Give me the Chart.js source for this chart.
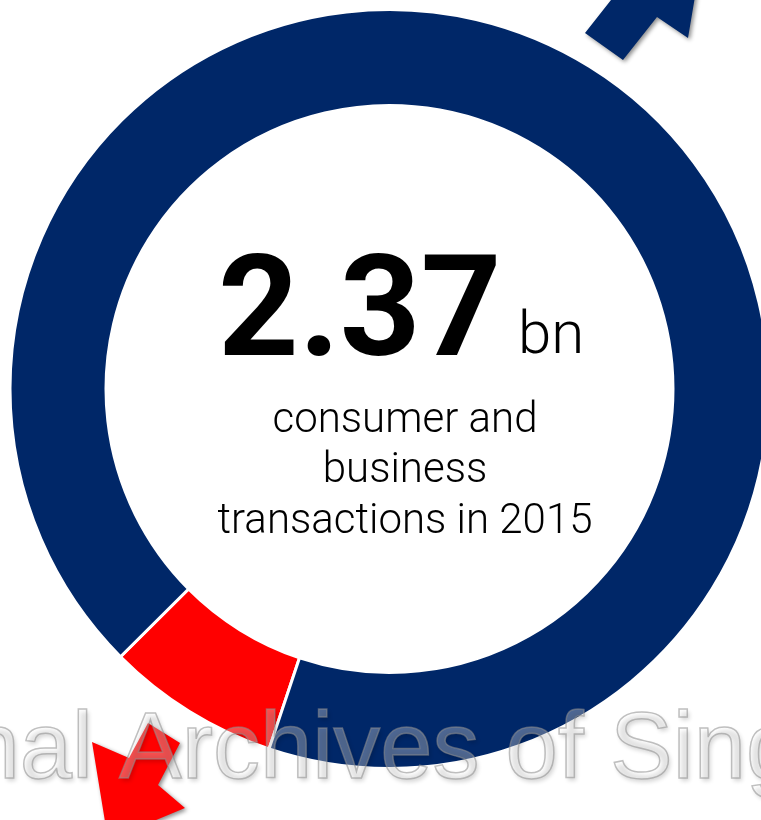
<!DOCTYPE html>
<html>
<head>
<meta charset="utf-8">
<script src="https://cdn.jsdelivr.net/npm/chart.js@4/dist/chart.umd.min.js"></script>
<style>
  html, body { margin: 0; padding: 0; background: #ffffff; overflow: hidden; }
  #wrap { position: absolute; left: 0; top: 0; width: 761px; height: 820px; }
</style>
</head>
<body>
<div id="wrap"><canvas id="c" width="761" height="820"></canvas></div>
<script>
// ---- data ----
const categories = ['Segment A', 'Segment B'];
const shareValues = [7.4, 92.6];
const segmentColors = ['#ff0000', '#002768'];
const headlineValue = '2.37';
const headlineUnit = 'bn';
const captionLines = ['consumer and', 'business', 'transactions in 2015'];
const watermarkText = 'National Archives of Singapore';

const overlayPlugin = {
  id: 'overlay',
  afterDatasetsDraw(chart) {
    const ctx = chart.ctx;
    ctx.save();
    // headline
    ctx.fillStyle = '#000000';
    ctx.textBaseline = 'alphabetic';
    ctx.textAlign = 'left';
    ctx.font = 'bold 141px Roboto, "Liberation Sans", Arial, sans-serif';
    ctx.fillText(headlineValue, 218, 355);
    ctx.font = '300 60px Roboto, sans-serif';
    ctx.fillText(headlineUnit, 518, 353);
    // caption
    ctx.textAlign = 'center';
    ctx.font = '300 42px Roboto, sans-serif';
    const baselines = [432, 482, 533];
    captionLines.forEach((t, i) => ctx.fillText(t, 405, baselines[i]));
    ctx.restore();

    // arrows (decorations)
    ctx.save();
    ctx.shadowColor = 'rgba(0,0,0,0.45)';
    ctx.shadowBlur = 4;
    ctx.shadowOffsetX = 2;
    ctx.shadowOffsetY = 2;
    ctx.fillStyle = '#002768';
    ctx.beginPath();
    const blue = [[585,33],[623,60],[657,17],[688,38],[702,-45],[625,-25],[611,0]];
    blue.forEach((p, i) => i ? ctx.lineTo(p[0], p[1]) : ctx.moveTo(p[0], p[1]));
    ctx.closePath();
    ctx.fill();
    ctx.fillStyle = '#ff0000';
    ctx.beginPath();
    const red = [[148,723],[180,743],[158,785],[185,808],[108,840],[92,742],[129,758]];
    red.forEach((p, i) => i ? ctx.lineTo(p[0], p[1]) : ctx.moveTo(p[0], p[1]));
    ctx.closePath();
    ctx.fill();
    ctx.restore();

    // watermark
    ctx.save();
    ctx.font = '94px "Liberation Sans", Arial, sans-serif';
    ctx.textAlign = 'left';
    const pre = ctx.measureText('National ').width;
    const x0 = 119 - pre;
    ctx.shadowColor = 'rgba(0,0,0,0.55)';
    ctx.shadowBlur = 4;
    ctx.shadowOffsetX = 2;
    ctx.shadowOffsetY = 3;
    ctx.fillStyle = 'rgba(255,255,255,0.3)';
    ctx.fillText(watermarkText, x0, 778);
    ctx.shadowColor = 'transparent';
    ctx.lineWidth = 1.5;
    ctx.strokeStyle = 'rgba(140,140,140,0.55)';
    ctx.strokeText(watermarkText, x0, 778);
    ctx.restore();
  }
};

new Chart(document.getElementById('c'), {
  type: 'doughnut',
  data: {
    labels: categories,
    datasets: [{
      data: shareValues,
      backgroundColor: segmentColors,
      borderColor: '#ffffff',
      borderWidth: 3
    }]
  },
  options: {
    responsive: false,
    animation: false,
    events: [],
    rotation: 198.5,
    radius: 379.5,
    cutout: '74.7%',
    layout: { padding: { left: 18, right: 0, top: 0, bottom: 42 } },
    plugins: { legend: { display: false }, tooltip: { enabled: false } }
  },
  plugins: [overlayPlugin]
});
</script>
</body>
</html>
